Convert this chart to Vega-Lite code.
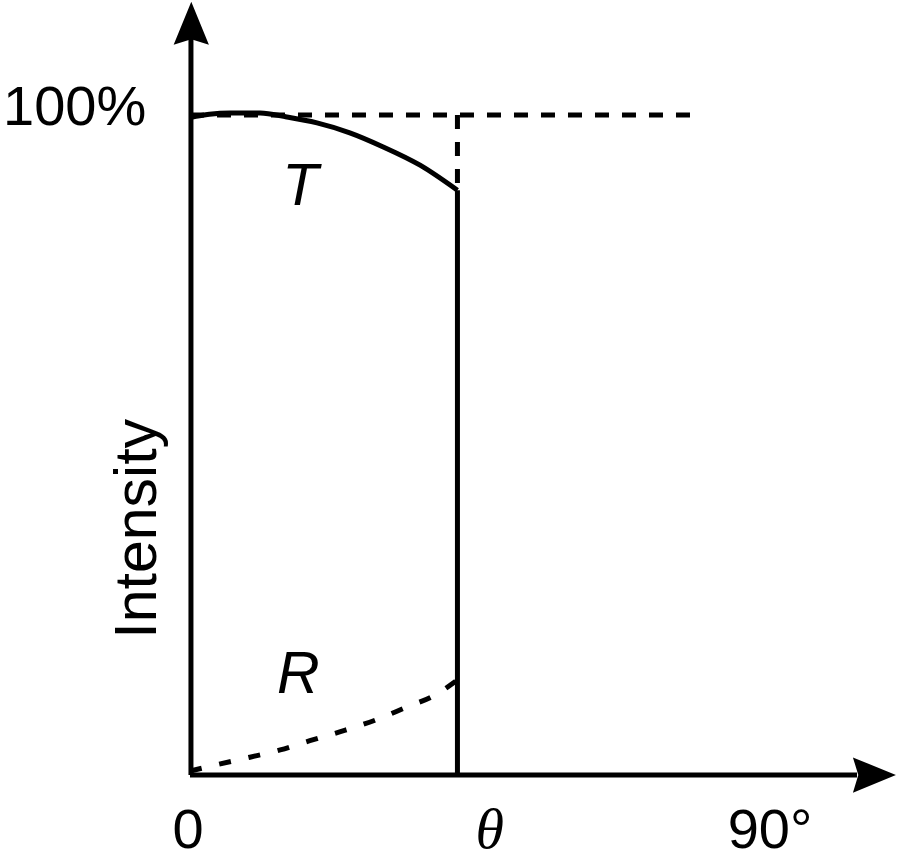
{
  "$schema": "https://vega.github.io/schema/vega-lite/v6.json",
  "width": 900,
  "height": 857,
  "padding": 0,
  "autosize": {"type": "none"},
  "background": "white",
  "config": {"view": {"stroke": null}},
  "datasets": {
    "transmitted": [
      {"angle": 0, "intensity": 99.6},
      {"angle": 3.0, "intensity": 100.1},
      {"angle": 6.2, "intensity": 100.3},
      {"angle": 10.9, "intensity": 100.3},
      {"angle": 15.0, "intensity": 99.7},
      {"angle": 19.7, "intensity": 98.8},
      {"angle": 24.8, "intensity": 97.3},
      {"angle": 29.9, "intensity": 95.2},
      {"angle": 35.7, "intensity": 92.4},
      {"angle": 41.5, "intensity": 88.6}
    ],
    "reflected": [
      {"angle": 0, "intensity": 0.6},
      {"angle": 3.9, "intensity": 1.5},
      {"angle": 9.3, "intensity": 2.7},
      {"angle": 14.0, "intensity": 3.8},
      {"angle": 18.6, "intensity": 5.2},
      {"angle": 24.1, "intensity": 6.8},
      {"angle": 28.7, "intensity": 8.3},
      {"angle": 33.4, "intensity": 10.2},
      {"angle": 38.0, "intensity": 12.1},
      {"angle": 41.5, "intensity": 14.4}
    ],
    "solidSegments": [
      {"x": 0.15, "y": 0, "x2": 0.15, "y2": 111.5},
      {"x": 0, "y": 0, "x2": 103.5, "y2": 0},
      {"x": 41.5, "y": 0, "x2": 41.5, "y2": 88.6}
    ],
    "dashedSegments": [
      {"x": 0, "y": 100, "x2": 77.6, "y2": 100},
      {"x": 41.5, "y": 100, "x2": 41.5, "y2": 88.6}
    ],
    "arrows": [
      {"x": 0.2, "y": 113.9, "dir": 0},
      {"x": 106.2, "y": 0, "dir": 90}
    ],
    "plainLabels": [
      {"x": -17.9, "y": 98.5, "label": "100%"},
      {"x": -0.3, "y": -11.1, "label": "0"},
      {"x": 90, "y": -11.1, "label": "90°"}
    ],
    "curveLabels": [
      {"x": 17.1, "y": 86.4, "label": "T"},
      {"x": 16.8, "y": 12.4, "label": "R"}
    ],
    "thetaLabel": [
      {"x": 46.5, "y": -11.1, "label": "θ"}
    ],
    "yTitle": [
      {"x": -5.3, "y": 37.3, "label": "Intensity"}
    ]
  },
  "layer": [
    {
      "data": {"name": "solidSegments"},
      "mark": {"type": "rule", "color": "black", "strokeWidth": 5},
      "encoding": {
        "x": {"field": "x", "type": "quantitative", "scale": {"domain": [-29.48, 110.17], "nice": false, "zero": false}, "axis": null},
        "y": {"field": "y", "type": "quantitative", "scale": {"domain": [-12.42, 117.42], "nice": false, "zero": false}, "axis": null},
        "x2": {"field": "x2"},
        "y2": {"field": "y2"}
      }
    },
    {
      "data": {"name": "dashedSegments"},
      "mark": {"type": "rule", "color": "black", "strokeWidth": 5, "strokeDash": [14, 13]},
      "encoding": {
        "x": {"field": "x", "type": "quantitative"},
        "y": {"field": "y", "type": "quantitative"},
        "x2": {"field": "x2"},
        "y2": {"field": "y2"}
      }
    },
    {
      "data": {"name": "transmitted"},
      "mark": {"type": "line", "color": "black", "strokeWidth": 5, "interpolate": "monotone"},
      "encoding": {
        "x": {"field": "angle", "type": "quantitative"},
        "y": {"field": "intensity", "type": "quantitative"}
      }
    },
    {
      "data": {"name": "reflected"},
      "mark": {"type": "line", "color": "black", "strokeWidth": 5, "interpolate": "monotone", "strokeDash": [12, 18]},
      "encoding": {
        "x": {"field": "angle", "type": "quantitative"},
        "y": {"field": "intensity", "type": "quantitative"}
      }
    },
    {
      "data": {"name": "arrows"},
      "mark": {"type": "point", "filled": true, "color": "black", "opacity": 1, "size": 1849, "shape": "M0,-1L0.82,1L0,0.75L-0.82,1Z"},
      "encoding": {
        "x": {"field": "x", "type": "quantitative"},
        "y": {"field": "y", "type": "quantitative"},
        "angle": {"field": "dir", "type": "quantitative", "scale": null}
      }
    },
    {
      "data": {"name": "plainLabels"},
      "mark": {"type": "text", "font": "Liberation Sans", "fontSize": 56, "align": "center", "baseline": "alphabetic", "color": "black"},
      "encoding": {
        "x": {"field": "x", "type": "quantitative"},
        "y": {"field": "y", "type": "quantitative"},
        "text": {"field": "label"}
      }
    },
    {
      "data": {"name": "curveLabels"},
      "mark": {"type": "text", "font": "Liberation Sans", "fontSize": 59, "fontStyle": "italic", "align": "center", "baseline": "alphabetic", "color": "black"},
      "encoding": {
        "x": {"field": "x", "type": "quantitative"},
        "y": {"field": "y", "type": "quantitative"},
        "text": {"field": "label"}
      }
    },
    {
      "data": {"name": "thetaLabel"},
      "mark": {"type": "text", "font": "Liberation Serif", "fontSize": 58, "fontStyle": "italic", "align": "center", "baseline": "alphabetic", "color": "black"},
      "encoding": {
        "x": {"field": "x", "type": "quantitative"},
        "y": {"field": "y", "type": "quantitative"},
        "text": {"field": "label"}
      }
    },
    {
      "data": {"name": "yTitle"},
      "mark": {"type": "text", "font": "Liberation Sans", "fontSize": 59, "angle": 270, "align": "center", "baseline": "alphabetic", "color": "black"},
      "encoding": {
        "x": {"field": "x", "type": "quantitative"},
        "y": {"field": "y", "type": "quantitative"},
        "text": {"field": "label"}
      }
    }
  ]
}
